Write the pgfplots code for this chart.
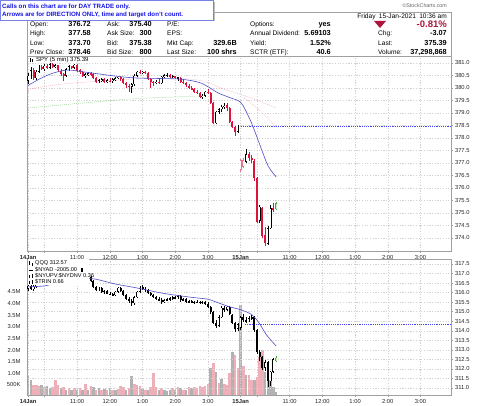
\documentclass[border=0pt]{standalone}
\usepackage{pgfplots}
\pgfplotsset{compat=1.18}
\usepackage{pgfplotstable}
\usepackage{fontspec}
\setmainfont{Liberation Sans}
\definecolor{spyred}{RGB}{220,20,60}
\definecolor{mablue}{RGB}{80,80,200}
\definecolor{dotblue}{RGB}{70,70,255}
\definecolor{gridc}{RGB}{210,210,210}
\definecolor{framec}{RGB}{160,160,160}
\definecolor{volg}{RGB}{178,178,178}
\definecolor{volp}{RGB}{238,175,185}
\definecolor{hdrred}{RGB}{175,20,60}
\definecolor{callblue}{RGB}{20,20,230}
\definecolor{callframe}{RGB}{120,130,230}
\definecolor{candgreen}{RGB}{70,170,60}
\definecolor{lgreen}{RGB}{200,240,190}

\pgfplotstableread{
t o h l c
0 380.30 380.60 380.15 380.50
5 380.50 380.85 380.35 380.70
10 380.70 380.80 380.30 380.40
15 380.40 380.70 380.30 380.65
20 380.65 380.90 380.60 380.85
25 380.85 380.90 380.70 380.75
30 380.75 380.95 380.70 380.90
35 380.90 380.95 380.75 380.80
40 380.80 381.00 380.75 380.95
45 380.95 381.00 380.80 380.85
50 380.85 380.95 380.80 380.90
55 380.90 380.92 380.65 380.70
60 380.70 380.75 380.50 380.55
65 380.55 380.60 380.30 380.50
70 380.50 380.80 380.45 380.75
75 380.75 380.92 380.70 380.88
80 380.88 380.90 380.75 380.80
85 380.80 380.98 380.75 380.92
90 380.92 380.95 380.65 380.70
95 380.70 380.75 380.55 380.65
100 380.65 380.70 380.45 380.50
105 380.50 380.60 380.40 380.55
110 380.55 380.65 380.50 380.60
115 380.60 380.65 380.50 380.55
120 380.55 380.60 380.35 380.40
125 380.40 380.45 380.20 380.25
130 380.25 380.35 380.20 380.30
135 380.30 380.40 380.25 380.35
140 380.35 380.40 380.20 380.25
145 380.25 380.35 380.20 380.30
150 380.30 380.38 380.25 380.28
155 380.28 380.40 380.20 380.35
160 380.35 380.45 380.30 380.40
165 380.40 380.50 380.35 380.45
170 380.45 380.50 380.30 380.35
175 380.35 380.40 380.15 380.20
180 380.20 380.25 380.00 380.10
185 380.10 380.15 379.85 380.05
190 380.05 380.20 379.80 380.15
195 380.15 380.55 380.10 380.50
200 380.50 380.70 380.45 380.65
205 380.65 380.72 380.55 380.60
210 380.60 380.70 380.55 380.65
215 380.65 380.70 380.55 380.60
220 380.60 380.62 380.30 380.35
225 380.35 380.40 380.00 380.25
230 380.25 380.30 380.10 380.20
235 380.20 380.30 380.15 380.25
240 380.25 380.35 380.15 380.20
245 380.20 380.50 380.15 380.45
250 380.45 380.55 380.40 380.50
255 380.50 380.58 380.45 380.52
260 380.52 380.55 380.40 380.45
265 380.45 380.52 380.40 380.48
270 380.48 380.50 380.35 380.40
275 380.40 380.45 380.30 380.42
280 380.42 380.45 380.20 380.25
285 380.25 380.30 380.15 380.20
290 380.20 380.25 380.05 380.10
295 380.10 380.15 379.95 380.00
300 380.00 380.08 379.90 379.95
305 379.95 380.00 379.80 379.85
310 379.85 379.90 379.75 379.80
315 379.80 379.85 379.60 379.65
320 379.65 379.75 379.55 379.70
325 379.70 379.90 379.65 379.85
330 379.85 379.95 379.75 379.80
335 379.80 379.85 379.35 379.40
340 379.40 379.45 378.55 378.60
345 378.60 379.10 378.55 379.05
350 379.05 379.20 378.95 379.15
355 379.15 379.30 379.05 379.25
360 379.25 379.40 379.15 379.30
365 379.30 379.42 379.10 379.20
370 379.20 379.25 378.60 378.65
375 378.65 378.70 378.40 378.45
380 378.45 378.50 378.10 378.25
385 378.25 378.50 378.20 378.46
400 377.05 377.58 377.00 377.35
405 377.35 377.45 377.10 377.20
410 377.20 377.30 377.00 377.10
415 377.10 377.15 376.30 376.40
420 376.40 376.45 374.60 374.65
425 374.70 375.30 374.60 375.25
430 375.20 375.25 374.00 374.10
435 374.10 374.45 373.70 373.78
440 373.78 374.50 373.72 374.40
445 374.40 375.30 374.35 375.20
450 375.20 375.40 375.05 375.15
}\spy

\pgfplotstableread{
t o h l c v g
0 316.20 316.45 316.10 316.35 0.93 1
5 316.35 316.45 316.15 316.20 0.70 1
10 316.20 316.40 316.10 316.30 0.50 0
15 316.30 316.50 316.25 316.45 0.48 0
20 316.45 316.65 316.40 316.60 0.45 0
25 316.60 316.75 316.55 316.70 0.50 1
30 316.70 316.80 316.60 316.65 0.40 0
35 316.65 316.85 316.60 316.80 0.45 1
40 316.80 316.90 316.70 316.75 0.35 1
45 316.75 316.85 316.65 316.70 0.40 0
50 316.70 316.90 316.65 316.85 0.70 0
55 316.85 316.95 316.75 316.80 0.50 0
60 316.80 316.90 316.70 316.75 0.35 1
65 316.75 316.85 316.60 316.65 0.40 0
70 316.65 316.80 316.60 316.75 0.30 1
75 316.75 316.90 316.70 316.85 0.35 0
80 316.85 316.95 316.75 316.80 0.30 1
85 316.80 316.90 316.70 316.75 0.38 0
90 316.75 316.85 316.65 316.70 0.28 1
95 316.70 316.80 316.60 316.75 0.35 0
100 316.75 316.85 316.65 316.70 0.30 1
105 316.70 316.85 316.65 316.80 0.55 0
110 316.80 316.90 316.70 316.80 0.30 1
115 316.80 316.85 316.55 316.60 0.45 0
120 316.60 316.65 316.25 316.30 0.40 1
125 316.30 316.35 316.10 316.15 0.30 0
130 316.15 316.30 316.10 316.25 0.35 1
135 316.25 316.30 316.00 316.05 0.30 0
140 316.05 316.15 315.95 316.10 0.32 1
145 316.10 316.15 315.90 315.95 0.28 0
150 315.95 316.05 315.85 315.90 0.35 1
155 315.90 316.00 315.80 315.85 0.30 0
160 315.85 316.10 315.80 316.05 0.28 1
165 316.05 316.30 316.00 316.25 0.32 0
170 316.25 316.30 316.05 316.10 0.45 0
175 316.10 316.15 315.80 315.85 0.40 0
180 315.85 315.95 315.60 315.65 0.30 1
185 315.65 315.75 315.45 315.55 0.35 0
190 315.55 315.65 315.30 315.45 0.90 1
195 315.45 315.80 315.35 315.75 0.55 0
200 315.75 316.10 315.70 316.05 0.50 0
205 316.05 316.35 316.00 316.30 0.45 0
210 316.30 316.38 316.15 316.20 0.35 1
215 316.20 316.28 316.05 316.15 0.30 0
220 316.15 316.20 315.95 316.00 0.30 1
225 316.00 316.05 315.80 315.85 0.40 0
230 315.85 315.95 315.70 315.75 1.00 0
235 315.75 315.80 315.60 315.65 0.40 0
240 315.65 315.75 315.55 315.60 0.30 1
245 315.60 315.70 315.40 315.50 0.35 0
250 315.50 315.65 315.45 315.60 0.30 1
255 315.60 315.72 315.55 315.65 0.25 1
260 315.65 315.75 315.55 315.70 0.30 1
265 315.70 315.80 315.60 315.75 0.35 0
270 315.75 315.82 315.65 315.70 0.30 1
275 315.70 315.85 315.65 315.80 0.40 0
280 315.80 315.85 315.50 315.60 0.35 1
285 315.60 315.70 315.55 315.65 0.30 0
290 315.65 315.70 315.45 315.50 0.30 1
295 315.50 315.60 315.45 315.55 0.40 0
300 315.55 315.60 315.45 315.50 0.35 1
305 315.50 315.58 315.40 315.52 0.40 0
310 315.52 315.60 315.45 315.50 0.35 0
315 315.50 315.58 315.42 315.48 0.45 0
320 315.48 315.55 315.40 315.50 0.40 0
325 315.50 315.55 315.35 315.40 0.45 0
330 315.40 315.48 315.20 315.25 0.55 0
335 315.25 315.30 314.90 315.00 1.25 1
340 315.00 315.05 314.35 314.40 1.45 0
345 314.40 314.55 314.15 314.25 1.05 1
350 314.25 314.80 314.20 314.70 0.60 0
355 314.70 315.30 314.65 315.20 0.75 1
360 315.20 315.30 315.00 315.10 0.55 0
365 315.10 315.30 315.05 315.25 0.50 0
370 315.25 315.30 314.80 314.85 1.00 0
375 314.85 314.90 314.35 314.40 1.90 1
380 314.40 314.45 313.95 314.10 1.80 0
385 314.10 314.40 314.00 314.35 1.25 0
390 314.15 314.75 314.05 314.70 3.95 1
395 314.70 314.85 314.45 314.55 1.30 0
400 314.55 314.70 314.40 314.50 0.93 1
405 314.50 314.75 314.45 314.65 0.93 0
410 314.65 314.80 314.55 314.70 0.70 0
415 314.70 314.75 313.95 314.05 0.70 1
420 314.05 314.10 312.80 312.90 0.85 0
425 312.90 313.00 312.40 312.60 1.70 0
430 312.60 312.65 311.95 312.05 2.00 0
435 312.05 312.45 311.90 312.35 1.05 1
440 312.35 312.40 311.05 311.35 1.00 1
445 311.35 311.90 311.10 311.85 0.70 1
450 311.85 312.55 311.80 312.50 0.40 1
}\qqq

\pgfplotsset{
  candle/.style args={#1/#2}{draw=none, mark=none,
    error bars/.cd, y dir=both, y explicit, error mark=none,
    error bar style={draw=#1, line width=#2, solid}},
  panel/.style={scale only axis, width=424pt, xmin=-2, xmax=776,
    axis line style={framec, line width=0.5pt},
    xtick={0,30,90,150,210,270,330,390,420,480,540,600,660,720},
    xticklabels={\textbf{14Jan},{},11:00,12:00,1:00,2:00,3:00,\textbf{15Jan},{},11:00,12:00,1:00,2:00,3:00},
    xmajorgrids, ymajorgrids,
    grid style={gridc, dash pattern=on 1.2pt off 1.5pt, line width=0.4pt},
    tick label style={font=\fontsize{5.8}{6}\selectfont, text=black!85},
    xticklabel style={yshift=1.5pt},
    yticklabel style={xshift=-1.5pt},
    xtick pos=bottom, ytick pos=right, yticklabel pos=right,
    tick align=outside, major tick length=2pt,
    tick style={framec, line width=0.4pt}},
}

\newcommand{\lab}[3]{\node[anchor=base west, inner sep=0pt, font=\fontsize{6.6}{7}\selectfont] at (#1pt,#2pt) {#3};}
\newcommand{\val}[3]{\node[anchor=base east, inner sep=0pt, font=\fontsize{7.3}{8}\selectfont\bfseries] at (#1pt,#2pt) {#3};}

\begin{document}
\begin{tikzpicture}
\useasboundingbox (0,0) rectangle (480pt,406pt);
\fill[white] (0,0) rectangle (480pt,406pt);

% ---------------- upper panel: SPY
\begin{axis}[panel, at={(27pt,155pt)}, anchor=south west, height=195pt,
  ymin=373.48, ymax=381.28,
  ytick={374,374.5,...,381},
  yticklabels={374.0,374.5,375.0,375.5,376.0,376.5,377.0,377.5,378.0,378.5,379.0,379.5,380.0,380.5,381.0}]
% faint moving averages
\addplot[spyred!35, line width=0.5pt, dash pattern=on 1pt off 1pt, smooth] coordinates {(0,379.95) (60,380.15) (150,380.30) (250,380.40) (317,380.30) (354,380.00) (409,379.60) (455,379.20)};
\addplot[spyred!30, line width=0.5pt, dash pattern=on 1pt off 1pt, smooth] coordinates {(396,379.60) (425,379.10) (455,378.45)};
\addplot[candgreen!55, line width=0.5pt, dash pattern=on 1pt off 1pt, smooth] coordinates {(0,379.20) (100,379.40) (200,379.58) (320,379.68)};
% prev close
\addplot[draw=dotblue, line width=0.9pt, dash pattern=on 1.2pt off 1pt] coordinates {(390,378.46) (776,378.46)};
% wicks
\addplot[candle={spyred/0.5pt}] table[x=t, y expr={(\thisrow{h}+\thisrow{l})/2}, y error expr={(\thisrow{h}-\thisrow{l})/2*(\thisrow{c}<\thisrow{o})}] {\spy};
\addplot[candle={black/0.5pt}] table[x=t, y expr={(\thisrow{h}+\thisrow{l})/2}, y error expr={(\thisrow{h}-\thisrow{l})/2*(1-(\thisrow{c}<\thisrow{o}))}] {\spy};
% bodies
\addplot[candle={spyred/2pt}] table[x=t, y expr={(\thisrow{o}+\thisrow{c})/2}, y error expr={max(0,(\thisrow{o}-\thisrow{c})/2)}] {\spy};
\addplot[candle={black/2pt}] table[x=t, y expr={(\thisrow{o}+\thisrow{c})/2}, y error expr={max(0,(\thisrow{c}-\thisrow{o})/2)}] {\spy};
\addplot[candle={white/1pt}] table[x=t, y expr={(\thisrow{o}+\thisrow{c})/2}, y error expr={max(0,(\thisrow{c}-\thisrow{o})/2-0.02)}] {\spy};
% pink hollow candles (day 2 open)
\addplot[candle={spyred!60/0.5pt}] coordinates {(390,376.90) +- (0,0.25) (395,377.00) +- (0,0.20)};
\addplot[candle={spyred!60/2pt}] coordinates {(390,376.91) +- (0,0.19) (395,376.975) +- (0,0.125)};
\addplot[candle={white/1pt}] coordinates {(390,376.91) +- (0,0.17) (395,376.975) +- (0,0.105)};
% last (green) candle
\addplot[candle={candgreen/0.5pt}] coordinates {(455,375.285) +- (0,0.165)};
\addplot[candle={candgreen/2pt}] coordinates {(455,375.27) +- (0,0.12)};
\addplot[candle={lgreen/1pt}] coordinates {(455,375.27) +- (0,0.10)};
% moving average
\addplot[mablue, line width=0.6pt, smooth] coordinates {(0,380.10) (20,380.35) (40,380.55) (60,380.68) (75,380.72) (100,380.65) (134,380.55) (170,380.45) (200,380.40) (240,380.38) (281,380.35) (317,380.20) (349,379.80) (372,379.60) (391,379.40) (409,378.65) (424,377.80) (440,376.90) (455,376.45)};
\end{axis}

% ---------------- lower panel: volume (left axis)
\begin{axis}[scale only axis, width=424pt, height=136pt, at={(27pt,11pt)}, anchor=south west,
  xmin=-2, xmax=776, ymin=0.07, ymax=5.92,
  axis line style={draw=none}, xtick=\empty,
  ytick={0.5,1,1.5,2,2.5,3,3.5,4,4.5},
  yticklabels={500K,1.0M,1.5M,2.0M,2.5M,3.0M,3.5M,4.0M,4.5M},
  ytick pos=left, major tick length=0pt,
  tick label style={font=\fontsize{5.8}{6}\selectfont, text=black!85},
  yticklabel style={xshift=-3pt}]
\addplot[ycomb, mark=none, draw=volg, line width=2.5pt] table[x=t, y expr={\thisrow{v}*\thisrow{g}}] {\qqq};
\addplot[ycomb, mark=none, draw=volp, line width=2.5pt] table[x=t, y expr={\thisrow{v}*(1-\thisrow{g})}] {\qqq};
\addplot[ycomb, mark=none, draw=volg, line width=2.5pt] coordinates {(455,0.20)};
\end{axis}

% ---------------- lower panel: QQQ price
\begin{axis}[panel, at={(27pt,11pt)}, anchor=south west, height=136pt,
  ymin=310.63, ymax=317.76,
  ytick={311,311.5,...,317.5},
  yticklabels={311.0,311.5,312.0,312.5,313.0,313.5,314.0,314.5,315.0,315.5,316.0,316.5,317.0,317.5}]
\addplot[draw=dotblue, line width=0.9pt, dash pattern=on 1.2pt off 1pt] coordinates {(398,314.35) (776,314.35)};
\addplot[candle={black/0.5pt}] table[x=t, y expr={(\thisrow{h}+\thisrow{l})/2}, y error expr={(\thisrow{h}-\thisrow{l})/2}] {\qqq};
\addplot[candle={black/2pt}] table[x=t, y expr={(\thisrow{o}+\thisrow{c})/2}, y error expr={max(0.02,abs(\thisrow{o}-\thisrow{c})/2)}] {\qqq};
\addplot[candle={white/1pt}] table[x=t, y expr={(\thisrow{o}+\thisrow{c})/2}, y error expr={max(0,(\thisrow{c}-\thisrow{o})/2-0.026)}] {\qqq};
\addplot[candle={candgreen/0.5pt}] coordinates {(455,312.525) +- (0,0.175)};
\addplot[candle={candgreen/2pt}] coordinates {(455,312.485) +- (0,0.085)};
\addplot[candle={lgreen/1pt}] coordinates {(455,312.485) +- (0,0.06)};
\addplot[mablue, line width=0.6pt, smooth] coordinates {(0,316.30) (30,316.35) (60,316.55) (90,316.70) (120,316.72) (160,316.45) (198,316.25) (250,315.95) (300,315.75) (330,315.65) (350,315.45) (370,315.25) (390,315.10) (410,314.85) (424,314.40) (437,313.80) (455,313.20)};
\end{axis}

% lower legend
\fill[white] (27.5pt,121pt) rectangle (89pt,146.5pt);
\begin{scope}[font=\fontsize{5.6}{6}\selectfont]
\node[anchor=base west, inner sep=0pt] at (35pt,141pt) {QQQ 312.57};
\node[anchor=base west, inner sep=0pt] at (35pt,134pt) {\$NYAD -2005.00};
\node[anchor=base west, inner sep=0pt] at (35pt,128pt) {\$NYUPV:\$NYDNV 0.36};
\node[anchor=base west, inner sep=0pt] at (35pt,122pt) {\$TRIN 0.66};
\end{scope}
\fill[black] (29pt,141pt) rectangle (30pt,145pt);
\fill[black] (31.5pt,140pt) rectangle (32.5pt,143pt);
\draw[black, line width=0.7pt] (28.5pt,136pt) -- (33pt,136pt);
\fill[black] (80.5pt,133.5pt) rectangle (83pt,138pt);
\fill[black] (29pt,128pt) rectangle (30pt,131pt);
\fill[black] (31.5pt,128pt) rectangle (32.5pt,132pt);
\fill[black] (29pt,122pt) rectangle (30pt,125pt);
\fill[black] (31.5pt,122pt) rectangle (32.5pt,126pt);
% upper legend
\node[anchor=base west, inner sep=0pt, font=\fontsize{6}{7}\selectfont] at (36pt,344pt) {SPY (5 min) 375.39};
\fill[black] (29.5pt,344pt) rectangle (30.5pt,348pt);
\fill[black] (32pt,344pt) rectangle (33pt,347pt);

% ---------------- header
\draw[framec, line width=0.5pt] (27pt,350pt) rectangle (451pt,394pt);
\lab{30}{379.5}{Open:}  \val{91}{379.5}{376.72}
\lab{30}{370}{High:}    \val{91}{370}{377.58}
\lab{30}{360.5}{Low:}   \val{91}{360.5}{373.70}
\lab{30}{351.5}{Prev Close:} \val{91}{351.5}{378.46}
\lab{107}{379.5}{Ask:}  \val{152}{379.5}{375.40}
\lab{107}{370}{Ask Size:} \val{152}{370}{300}
\lab{107}{360.5}{Bid:}  \val{152}{360.5}{375.38}
\lab{107}{351.5}{Bid Size:} \val{152}{351.5}{800}
\lab{167}{379.5}{P/E:}
\lab{167}{370}{EPS:}
\lab{167}{360.5}{Mkt Cap:} \val{237}{360.5}{329.6B}
\lab{167}{351.5}{Last Size:} \val{237}{351.5}{100 shrs}
\lab{250}{379.5}{Options:} \val{331}{379.5}{yes}
\lab{250}{370}{Annual Dividend:} \val{331}{370}{5.69103}
\lab{250}{360.5}{Yield:} \val{331}{360.5}{1.52\%}
\lab{250}{351.5}{SCTR (ETF):} \val{331}{351.5}{40.6}
\fill[hdrred] (374pt,385pt) -- (386pt,385pt) -- (380pt,378pt) -- cycle;
\node[anchor=base east, inner sep=0pt, font=\fontsize{9.5}{10}\selectfont\bfseries, text=hdrred] at (447pt,378.4pt) {-0.81\%};
\lab{378}{370}{Chg:}    \val{447}{370}{-3.07}
\lab{378}{360.5}{Last:} \val{447}{360.5}{375.39}
\lab{378}{351.5}{Volume:} \val{447}{351.5}{37,298,868}
\node[anchor=base east, inner sep=0pt, font=\fontsize{6.6}{7}\selectfont] at (447pt,387.5pt) {Friday\enspace 15-Jan-2021\enspace 10:36 am};
\node[anchor=base east, inner sep=0pt, font=\fontsize{5.3}{6}\selectfont, text=black!60] at (447pt,398pt) {\textcopyright StockCharts.com};

% callout
\fill[black!25] (2pt,384.5pt) rectangle (214.5pt,404pt);
\filldraw[fill=white, draw=callframe, line width=0.6pt] (0.3pt,386pt) rectangle (213pt,405.7pt);
\node[anchor=base west, inner sep=0pt, font=\fontsize{6.2}{7}\selectfont\bfseries, text=callblue] at (2pt,397.8pt) {Calls on this chart are for DAY TRADE only.};
\node[anchor=base west, inner sep=0pt, font=\fontsize{6.2}{7}\selectfont\bfseries, text=callblue] at (2pt,389.5pt) {Arrows are for DIRECTION ONLY, time and target don't count.};
\end{tikzpicture}
\end{document}
